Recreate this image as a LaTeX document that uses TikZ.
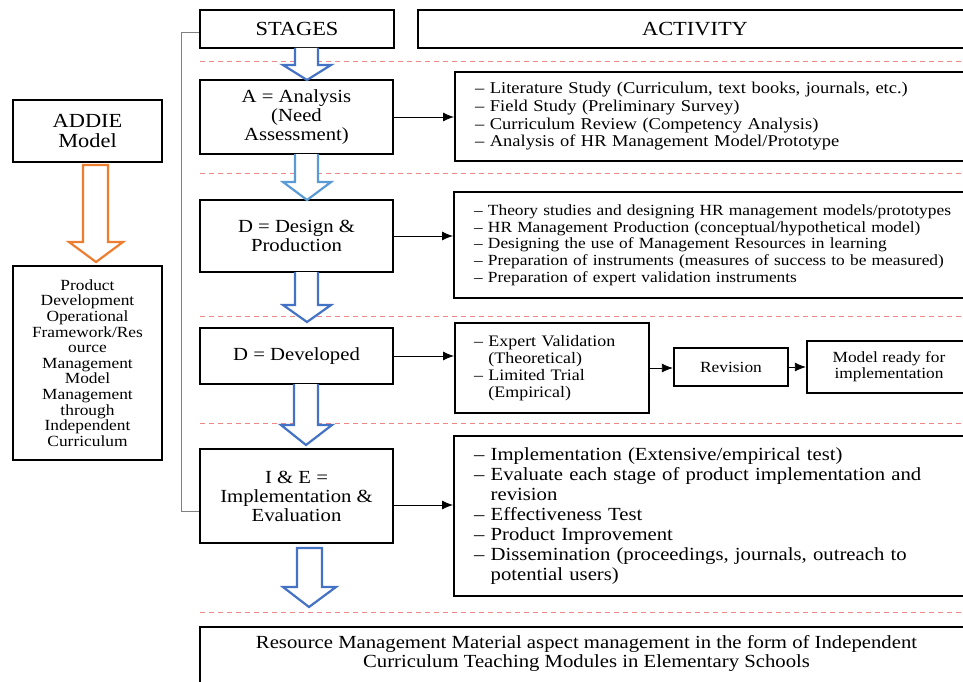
\documentclass[tikz,border=0pt]{standalone}
\usepackage{fontspec}
\setmainfont{Liberation Serif}[FakeStretch=1.12]
\usepackage{tikz}
\usetikzlibrary{arrows.meta}
\definecolor{arrblue}{HTML}{4472C4}
\definecolor{arrlight}{HTML}{5B9BD5}
\definecolor{arrorange}{HTML}{ED7D31}
\definecolor{dashred}{RGB}{240,135,135}

\begin{document}
\begin{tikzpicture}[x=1pt,y=-1pt]
          \useasboundingbox (0,0) rectangle (963,682);
          \clip (0,0) rectangle (963,682);
          \tikzstyle{box} = [draw, line width=2.3pt, inner sep=0pt, align=center];
          \tikzstyle{stage} = [box, minimum width=193pt, font=\fontsize{18.5}{19}\selectfont];
          \tikzstyle{actbox} = [box, anchor=west, minimum width=560pt, text width=520pt, inner xsep=20pt, align=left];
          \tikzstyle{redline} = [dashed, dash pattern=on 5pt off 4pt, draw=dashred, line width=0.9pt];
          \tikzstyle{down} = [line width=2.2pt, fill=white, line join=miter];
          \tikzstyle{link} = [-{Latex[length=11pt,width=9pt]}, line width=0.8pt];
          % dashed separators
          \foreach \y in {61,173,316,423,612}
            \draw[redline] (200,\y) -- (963,\y);
          % headers
          \node[box, minimum width=194pt, minimum height=38pt, font=\fontsize{20}{22}\selectfont] (st) at (297,29) {STAGES};
          \node[box, minimum width=554pt, minimum height=38pt, font=\fontsize{20}{22}\selectfont] (ac) at (695,29) {ACTIVITY};
          % left column
          \node[box, minimum width=149pt, minimum height=62pt, font=\fontsize{20}{20}\selectfont] (addie) at (87.5,131) {ADDIE\\Model};
          \node[box, minimum width=149pt, minimum height=194pt, font=\fontsize{15.5}{15.6}\selectfont] (prod) at (87.5,363) {Product\\Development\\Operational\\Framework/Res\\ource\\Management\\Model\\Management\\through\\Independent\\Curriculum};
          % stages
          \node[stage, minimum height=74pt] (a) at (296.5,117) {A = Analysis\\(Need\\Assessment)};
          \node[stage, minimum height=72pt] (d) at (296.5,236) {D = Design \&\\Production};
          \node[stage, minimum height=56pt] (dv) at (296.5,356) {D = Developed};
          \node[stage, minimum height=94pt] (ie) at (296.5,496) {I \& E =\\Implementation \&\\Evaluation};
          % activities
          \node[actbox, minimum height=89pt, font=\fontsize{16.5}{17.7}\selectfont] (a1) at (454,116.5) {\textendash{} Literature Study (Curriculum, text books, journals, etc.)\\\textendash{} Field Study (Preliminary Survey)\\\textendash{} Curriculum Review (Competency Analysis)\\\textendash{} Analysis of HR Management Model/Prototype};
          \node[actbox, minimum height=106pt, font=\fontsize{15.5}{16.7}\selectfont] (a2) at (453,245) {\textendash{} Theory studies and designing HR management models/prototypes\\\textendash{} HR Management Production (conceptual/hypothetical model)\\\textendash{} Designing the use of Management Resources in learning\\\textendash{} Preparation of instruments (measures of success to be measured)\\\textendash{} Preparation of expert validation instruments};
          \node[box, anchor=west, minimum width=194pt, minimum height=90pt, text width=156pt, inner xsep=19pt, align=left, font=\fontsize{16}{17}\selectfont] (a3) at (454,368) {\textendash{} Expert Validation\\\phantom{\textendash{} }(Theoretical)\\\textendash{} Limited Trial\\\phantom{\textendash{} }(Empirical)};
          \node[box, minimum width=114pt, minimum height=38pt, font=\fontsize{15.5}{16}\selectfont] (rev) at (731,367) {Revision};
          \node[box, minimum width=164pt, minimum height=52pt, font=\fontsize{15.5}{16}\selectfont] (ready) at (889,367) {Model ready for\\implementation};
          \node[actbox, minimum height=160pt, font=\fontsize{18.5}{20}\selectfont] (a4) at (453,516) {\textendash{} Implementation (Extensive/empirical test)\\\textendash{} Evaluate each stage of product implementation and\\\phantom{\textendash{} }revision\\\textendash{} Effectiveness Test\\\textendash{} Product Improvement\\\textendash{} Dissemination (proceedings, journals, outreach to\\\phantom{\textendash{} }potential users)};
          % result
          \node[box, anchor=north, minimum width=773pt, minimum height=100pt] (fin) at (586.5,626) {};
          \node[align=center, font=\fontsize{18.5}{19}\selectfont] (fintxt) at (586.5,653) {Resource Management Material aspect management in the form of Independent\\Curriculum Teaching Modules in Elementary Schools};
          % block arrows
          \draw[down, draw=arrorange] (83,165) -- (108,165) -- (108,242) -- (123,242) -- (96,262) -- (69,242) -- (83,242) -- cycle;
          \draw[down, draw=arrblue] (295,48) -- (295,65) -- (283,65) -- (307,80) -- (331,65) -- (318,65) -- (318,48);
          \draw[down, draw=arrlight] (295,154) -- (295,182) -- (283,182) -- (307,200) -- (331,182) -- (318,182) -- (318,154);
          \draw[down, draw=arrblue] (295,272) -- (295,305) -- (283,305) -- (307,322) -- (331,305) -- (318,305) -- (318,272);
          \draw[down, draw=arrblue] (294,384) -- (294,425) -- (281,425) -- (306,445) -- (332,425) -- (318,425) -- (318,384);
          \draw[down, draw=arrblue] (297,548) -- (322,548) -- (322,587) -- (336,587) -- (309,607) -- (283,587) -- (297,587) -- cycle;
          % bracket
          \draw[gray, line width=0.8pt] ([yshift=-3pt]st.west) -- ++(-17,0) |- ([yshift=-15pt]ie.west);
          % connectors
          \path[link] (a.east) edge (a.east -| a1.west);
          \path[link] (d.east) edge (d.east -| a2.west);
          \path[link] (dv.east) edge (dv.east -| a3.west);
          \path[link] (a3.east) edge (a3.east -| rev.west);
          \path[link] (rev.east) edge (rev.east -| ready.west);
          \path[link] ([yshift=-9pt]ie.east) edge ([yshift=-9pt]ie.east -| a4.west);
\end{tikzpicture}
\end{document}
